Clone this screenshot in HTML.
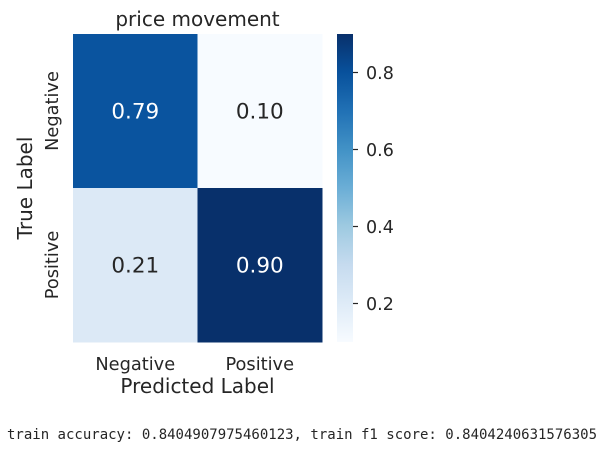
<!DOCTYPE html>
<html><head><meta charset="utf-8"><style>
body{margin:0;background:#fff;}
svg text{font-family:"DejaVu Sans","Liberation Sans",sans-serif;fill:#262626;}
</style></head><body>
<svg id="chart" width="607" height="456" xmlns="http://www.w3.org/2000/svg">
<defs><linearGradient id="blues" x1="0" y1="1" x2="0" y2="0">
<stop offset="0" stop-color="#f7fbff"/><stop offset="0.125" stop-color="#deebf7"/><stop offset="0.25" stop-color="#c6dbef"/><stop offset="0.375" stop-color="#9ecae1"/><stop offset="0.5" stop-color="#6baed6"/><stop offset="0.625" stop-color="#4292c6"/><stop offset="0.75" stop-color="#2171b5"/><stop offset="0.875" stop-color="#08519c"/><stop offset="1" stop-color="#08306b"/>
</linearGradient></defs>
<text x="197.5" y="26" font-size="20" text-anchor="middle">price movement</text>
<g id="cells"></g>
<rect x="337" y="34" width="16" height="308" fill="url(#blues)"/>
<g id="cbticks"></g>
<text x="197.5" y="393" font-size="20" text-anchor="middle">Predicted Label</text>
<text transform="translate(32,188) rotate(-90)" font-size="20" text-anchor="middle">True Label</text>
<text x="302" y="439" font-size="14" text-anchor="middle" style="font-family:'DejaVu Sans Mono','Liberation Mono',monospace">train accuracy: 0.8404907975460123, train f1 score: 0.8404240631576305</text>
</svg>
<script>
const labels=["Negative","Positive"];
const values=[[0.79,0.10],[0.21,0.90]];
const cbTicks=[0.2,0.4,0.6,0.8];
const vmin=0.1,vmax=0.9;
const NS="http://www.w3.org/2000/svg";
const x0=73,y0=34,cw=124.5,ch=154;
const stops=[[0,"#f7fbff"],[0.125,"#deebf7"],[0.25,"#c6dbef"],[0.375,"#9ecae1"],[0.5,"#6baed6"],[0.625,"#4292c6"],[0.75,"#2171b5"],[0.875,"#08519c"],[1,"#08306b"]];
function hex(h){return [1,3,5].map(i=>parseInt(h.substr(i,2),16));}
function color(v){let t=Math.max(0,Math.min(1,(v-vmin)/(vmax-vmin)));
for(let i=1;i<stops.length;i++){if(t<=stops[i][0]){const a=hex(stops[i-1][1]),b=hex(stops[i][1]);const f=(t-stops[i-1][0])/(stops[i][0]-stops[i-1][0]);return "rgb("+a.map((c,k)=>Math.round(c+(b[k]-c)*f)).join(",")+")";}}return stops[8][1];}
function cby(v){return 342-(v-vmin)/(vmax-vmin)*308;}
function mk(tag,attrs,parent,txt){const e=document.createElementNS(NS,tag);for(const k in attrs)e.setAttribute(k,attrs[k]);if(txt!==undefined)e.textContent=txt;parent.appendChild(e);return e;}
const cells=document.getElementById("cells");
values.forEach((row,r)=>row.forEach((v,c)=>{
 const rc=mk("rect",{x:x0+c*cw,y:y0+r*ch,width:cw+0.5,height:ch+0.5,fill:color(v)},cells);
 
 
 const t=mk("text",{x:x0+c*cw+cw/2,y:y0+r*ch+ch/2+7.5,"font-size":"21.5","text-anchor":"middle"},cells,v.toFixed(2));
 t.style.fill=v>0.5?"#fff":"#262626";
 
 
}));
labels.forEach((l,i)=>{
 const tx=mk("text",{x:x0+i*cw+cw/2,y:370,"font-size":"17.8","text-anchor":"middle"},cells,l);
 
 
 const ty=mk("text",{transform:"translate(58,"+(y0+i*ch+ch/2)+") rotate(-90)","font-size":"17.8","text-anchor":"middle"},cells,l);
 
 
});
const cb=document.getElementById("cbticks");
cbTicks.forEach(v=>{const y=cby(v);
 const ln=mk("line",{x1:353,x2:358,y1:y,y2:y,stroke:"#262626","stroke-width":1.2},cb);
 
 
 const t=mk("text",{x:366,y:y+6.5,"font-size":"17.5"},cb,v.toFixed(1));
 
 
});
</script>
</body></html>
